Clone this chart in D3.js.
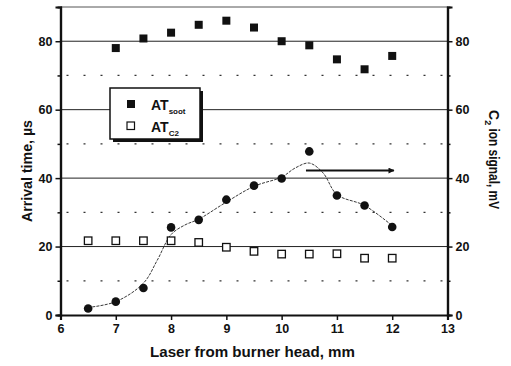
<!DOCTYPE html>
<html>
<head>
<meta charset="utf-8">
<script src="https://cdn.jsdelivr.net/npm/d3@7"></script>
<style>
  body { margin: 0; background: #fff; }
  text { font-family: "Liberation Sans", Arial, sans-serif; font-weight: bold; fill: #111; }
</style>
</head>
<body>
<div class="chart"></div>
<script>
// distances (mm)
const laserPos = [6.5, 7, 7.5, 8, 8.5, 9, 9.5, 10, 10.5, 11, 11.5, 12];
const sootPos = [7, 7.5, 8, 8.5, 9, 9.5, 10, 10.5, 11, 11.5, 12];
const atSoot = [78, 80.8, 82.5, 84.8, 86, 84, 80, 78.8, 74.7, 71.8, 75.7];
const atC2 = [21.7, 21.7, 21.7, 21.7, 21.2, 19.8, 18.6, 17.8, 17.8, 17.9, 16.6, 16.6];
const c2Signal = [1.9, 3.9, 7.9, 25.6, 27.8, 33.7, 37.8, 39.9, 47.8, 34.9, 32, 25.7];
// smoothed trend line
const fitX = [6.5, 7, 7.5, 7.75, 8, 8.25, 8.5, 9, 9.5, 10, 10.25, 10.5, 10.75, 11, 11.5, 12];
const fitY = [2.2, 3.9, 9.3, 16, 23.5, 26.3, 28, 33, 37.6, 40.3, 43, 44.4, 41.5, 35.2, 32, 26.1];
const xTicks = [6, 7, 8, 9, 10, 11, 12, 13];
const yTicks = [0, 20, 40, 60, 80];
const yMinor = [10, 30, 50, 70];

const W = 511, H = 366;
const margin = { top: 7, right: 63.5, bottom: 51, left: 60.5 };
const width = W - margin.left - margin.right;
const height = H - margin.top - margin.bottom;

const svg = d3.select(".chart").append("svg")
  .attr("width", W).attr("height", H);
const g = svg.append("g").attr("transform", `translate(${margin.left},${margin.top})`);

const x = d3.scaleLinear().domain([6, 13]).range([0, width]);
const y = d3.scaleLinear().domain([0, 90]).range([height, 0]);
const y2 = d3.scaleLinear().domain([0, 90]).range([height, 0]);

// grid
g.selectAll(".grid").data(yTicks.slice(1)).enter().append("line")
  .attr("x1", 0).attr("x2", width)
  .attr("y1", d => y(d)).attr("y2", d => y(d))
  .attr("stroke", "#222").attr("stroke-width", 1);
g.selectAll(".minor").data(yMinor).enter().append("line")
  .attr("x1", 6).attr("x2", width)
  .attr("y1", d => y(d)).attr("y2", d => y(d))
  .attr("stroke", "#333").attr("stroke-width", 1.2)
  .attr("stroke-dasharray", "2,15");
// top border
g.append("line").attr("x1", 0).attr("x2", width).attr("y1", 0).attr("y2", 0)
  .attr("stroke", "#555").attr("stroke-width", 1);

// axes
const xAxis = g.append("g").attr("transform", `translate(0,${height})`)
  .call(d3.axisBottom(x).tickValues(xTicks).tickSize(5).tickPadding(4).tickFormat(d3.format("d")));
const yAxis = g.append("g")
  .call(d3.axisLeft(y).tickValues(yTicks).tickSize(5).tickPadding(3));
const yAxisR = g.append("g").attr("transform", `translate(${width},0)`)
  .call(d3.axisRight(y2).tickValues(yTicks).tickSize(5).tickPadding(3));
g.append("g").call(d3.axisLeft(y).tickValues(yMinor).tickSize(3).tickFormat(""));
g.append("g").attr("transform", `translate(${width},0)`)
  .call(d3.axisRight(y2).tickValues(yMinor).tickSize(3).tickFormat(""));
g.selectAll(".domain").attr("stroke", "#111").attr("stroke-width", 2.2);
g.selectAll(".tick line").attr("stroke", "#111").attr("stroke-width", 1.5);
[xAxis, yAxis, yAxisR].forEach(a => a.selectAll("text")
  .style("font-size", "12.5px").style("font-weight", "bold")
  .style("font-family", "'Liberation Sans', Arial, sans-serif").attr("fill", "#111"));

// trend line
g.append("path").datum(fitX.map((d, i) => [d, fitY[i]]))
  .attr("d", d3.line().x(d => x(d[0])).y(d => y2(d[1])).curve(d3.curveCatmullRom.alpha(0.5)))
  .attr("fill", "none").attr("stroke", "#222").attr("stroke-width", 0.9)
  .attr("stroke-dasharray", "3,1.2");

// C2 signal circles
g.selectAll(".c2sig").data(laserPos).enter().append("circle")
  .attr("cx", d => x(d)).attr("cy", (d, i) => y2(c2Signal[i]))
  .attr("r", 4.3).attr("fill", "#111");

// AT C2 open squares
const s1 = 7.5;
g.selectAll(".atc2").data(laserPos).enter().append("rect")
  .attr("x", d => x(d) - s1 / 2).attr("y", (d, i) => y(atC2[i]) - s1 / 2)
  .attr("width", s1).attr("height", s1)
  .attr("fill", "#fff").attr("stroke", "#111").attr("stroke-width", 1.3);

// AT soot filled squares
const s2 = 8;
g.selectAll(".atsoot").data(sootPos).enter().append("rect")
  .attr("x", d => x(d) - s2 / 2).attr("y", (d, i) => y(atSoot[i]) - s2 / 2)
  .attr("width", s2).attr("height", s2).attr("fill", "#111");

// arrow toward right axis
svg.append("defs").append("marker").attr("id", "arr")
  .attr("viewBox", "0 0 10 10").attr("refX", 9).attr("refY", 5)
  .attr("markerWidth", 4).attr("markerHeight", 3).attr("orient", "auto")
  .append("path").attr("d", "M0,0L10,5L0,10Z").attr("fill", "#111");
g.append("line")
  .attr("x1", x(10.44)).attr("x2", x(12.03))
  .attr("y1", y2(42.2)).attr("y2", y2(42.2))
  .attr("stroke", "#111").attr("stroke-width", 2)
  .attr("marker-end", "url(#arr)");

// legend
const lg = svg.append("g").attr("transform", "translate(110,88)");
lg.append("rect").attr("x", 3).attr("y", 3).attr("width", 90).attr("height", 51).attr("fill", "#111");
lg.append("rect").attr("x", 0).attr("y", 0).attr("width", 90).attr("height", 51)
  .attr("fill", "#fff").attr("stroke", "#111").attr("stroke-width", 1.5);
lg.append("rect").attr("x", 17).attr("y", 12).attr("width", 8).attr("height", 8).attr("fill", "#111");
lg.append("rect").attr("x", 17).attr("y", 34).attr("width", 7.5).attr("height", 7.5)
  .attr("fill", "#fff").attr("stroke", "#111").attr("stroke-width", 1.2);
const t1 = lg.append("text").attr("x", 41).attr("y", 22).style("font-size", "14px");
t1.append("tspan").text("AT");
t1.append("tspan").attr("dy", 4).style("font-size", "8px").text("soot");
const t2 = lg.append("text").attr("x", 41).attr("y", 44).style("font-size", "14px");
t2.append("tspan").text("AT");
t2.append("tspan").attr("dy", 4).style("font-size", "8px").text("C2");

// axis titles
svg.append("text").attr("x", 252.5).attr("y", 357)
  .attr("text-anchor", "middle").style("font-size", "14.5px")
  .attr("textLength", 205).attr("lengthAdjust", "spacingAndGlyphs")
  .text("Laser from burner head, mm");
svg.append("text").attr("transform", "translate(32,171) rotate(-90)")
  .attr("text-anchor", "middle").style("font-size", "14px")
  .attr("textLength", 102).attr("lengthAdjust", "spacingAndGlyphs")
  .text("Arrival time, µs");
const rt = svg.append("text").attr("transform", "translate(489,110) rotate(90)")
  .style("font-size", "14px");
rt.append("tspan").text("C");
rt.append("tspan").attr("dy", 4).style("font-size", "9px").text("2");
rt.append("tspan").attr("dy", -4).attr("textLength", 84).attr("lengthAdjust", "spacingAndGlyphs")
  .text(" ion signal, mV");
</script>
</body>
</html>
